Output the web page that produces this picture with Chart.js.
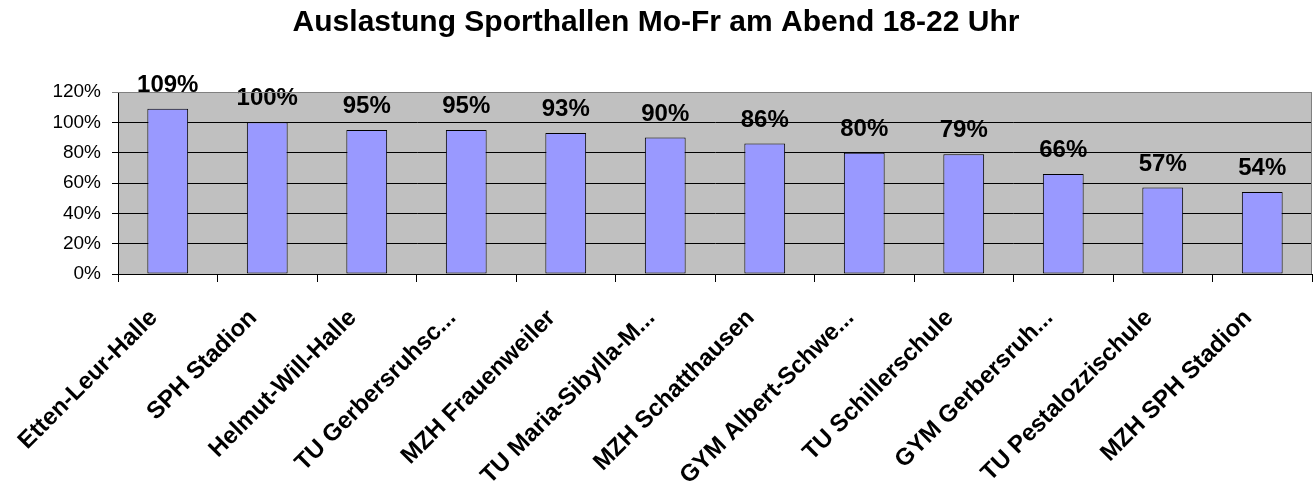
<!DOCTYPE html>
<html>
<head>
<meta charset="utf-8">
<script src="https://cdn.jsdelivr.net/npm/chart.js@4"></script>
<style>
  html, body { margin: 0; padding: 0; background: #fff; }
  #wrap { width: 1315px; height: 491px; }
</style>
</head>
<body>
<div id="wrap"><canvas id="grafica" width="1315" height="491"></canvas></div>
<script>
// Datos
const hallen = ['Etten-Leur-Halle', 'SPH Stadion', 'Helmut-Will-Halle', 'TU Gerbersruhsc...',
    'MZH Frauenweiler', 'TU Maria-Sibylla-M...', 'MZH Schatthausen', 'GYM Albert-Schwe...',
    'TU Schillerschule', 'GYM Gerbersruh...', 'TU Pestalozzischule', 'MZH SPH Stadion'];
const auslastung = [109, 100, 95, 95, 93, 90, 86, 80, 79, 66, 57, 54];
const yTicks = [0, 20, 40, 60, 80, 100, 120];

const schrift = "Arial, 'Liberation Sans', sans-serif";

// Grauer Hintergrund + Rahmen oben/rechts
const hintergrund = {
    id: 'hintergrund',
    beforeDraw(chart) {
        const { ctx, chartArea: a } = chart;
        ctx.save();
        ctx.fillStyle = '#C0C0C0';
        ctx.fillRect(a.left, a.top, a.right - a.left, a.bottom - a.top);
        ctx.restore();
    },
    afterDraw(chart) {
        const { ctx, chartArea: a } = chart;
        ctx.save();
        ctx.strokeStyle = '#808080';
        ctx.lineWidth = 1;
        ctx.beginPath();
        ctx.moveTo(a.left, a.top + 0.5);
        ctx.lineTo(a.right - 0.5, a.top + 0.5);
        ctx.lineTo(a.right - 0.5, a.bottom);
        ctx.stroke();
        ctx.restore();
    }
};

// Werte über den Balken
const werte = {
    id: 'werte',
    afterDatasetsDraw(chart) {
        const { ctx } = chart;
        const meta = chart.getDatasetMeta(0);
        ctx.save();
        ctx.font = 'bold 24px ' + schrift;
        ctx.fillStyle = '#000';
        ctx.textAlign = 'center';
        ctx.textBaseline = 'alphabetic';
        meta.data.forEach((bar, i) => {
            ctx.fillText(auslastung[i] + '%', bar.x, bar.y - 17);
        });
        ctx.restore();
    }
};

new Chart(document.getElementById('grafica'), {
    type: 'bar',
    data: {
        labels: hallen,
        datasets: [{
            data: auslastung,
            backgroundColor: '#9999FF',
            borderColor: '#000',
            borderWidth: 1,
            borderSkipped: false,
            barPercentage: 0.41,
            categoryPercentage: 1
        }]
    },
    options: {
        responsive: false,
        animation: false,
        layout: { padding: { left: 0, right: 3, top: 0, bottom: 0 } },
        plugins: {
            legend: { display: false },
            tooltip: { enabled: false },
            title: {
                display: true,
                text: 'Auslastung Sporthallen Mo-Fr am Abend 18-22 Uhr',
                color: '#000',
                font: { family: schrift, size: 30, weight: 'bold' },
                padding: { top: 5, bottom: 51 }
            }
        },
        scales: {
            x: {
                afterFit(scale) { scale.height = 217; },
                grid: {
                    display: true,
                    offset: true,
                    drawOnChartArea: false,
                    drawTicks: true,
                    tickLength: 8,
                    color: '#000'
                },
                border: { display: true, color: '#000' },
                ticks: {
                    color: '#000',
                    font: { family: schrift, size: 24, weight: 'bold' },
                    minRotation: 45,
                    maxRotation: 45,
                    autoSkip: false,
                    padding: 22,
                    labelOffset: -14
                }
            },
            y: {
                min: 0,
                max: 120,
                afterFit(scale) { scale.width = 118; },
                afterBuildTicks(scale) { scale.ticks = yTicks.map(v => ({ value: v })); },
                grid: {
                    color: ctx => ctx.tick && ctx.tick.value === 120 ? '#808080' : '#000',
                    tickLength: 6
                },
                border: { display: true, color: '#000' },
                ticks: {
                    color: '#000',
                    font: { family: schrift, size: 19 },
                    padding: 11,
                    callback: v => v + '%'
                }
            }
        }
    },
    plugins: [hintergrund, werte]
});
</script>
</body>
</html>
